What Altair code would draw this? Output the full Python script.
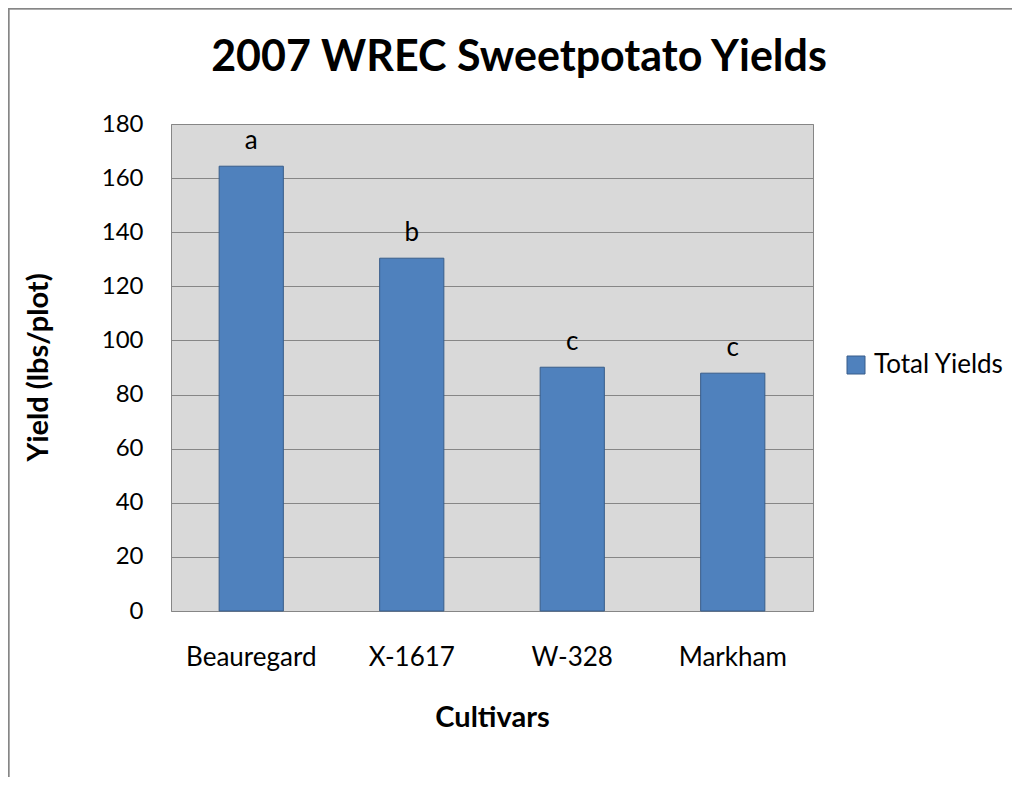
import altair as alt
import pandas as pd

cultivars = ["Beauregard", "X-1617", "W-328", "Markham"]
yields = [164.4, 130.4, 90.1, 87.9]
letters = ["a", "b", "c", "c"]
series_name = "Total Yields"
y_ticks = [0, 20, 40, 60, 80, 100, 120, 140, 160, 180]

FONT = "Lato"

df = pd.DataFrame({
    "Cultivar": cultivars,
    "Yield": yields,
    "Group": letters,
    "Series": [series_name] * len(cultivars),
})

base = alt.Chart(df).encode(
    x=alt.X(
        "Cultivar:N",
        sort=cultivars,
        scale=alt.Scale(paddingInner=0.6, paddingOuter=0.3),
        axis=alt.Axis(
            title="Cultivars",
            labelAngle=0,
            labelFont=FONT,
            labelFontSize=26,
            labelColor="#000000",
            labelPadding=33,
            labelBaseline="top",
            ticks=False,
            domain=False,
            titleFont=FONT,
            titleFontSize=29,
            titleFontWeight="bold",
            titleColor="#000000",
            titleY=106,
            titleBaseline="middle",
        ),
    ),
    y=alt.Y(
        "Yield:Q",
        scale=alt.Scale(domain=[0, 180]),
        axis=alt.Axis(
            values=y_ticks,
            title="Yield (lbs/plot)",
            labelFont=FONT,
            labelFontSize=24,
            labelColor="#000000",
            labelPadding=28,
            ticks=False,
            domain=False,
            gridColor="#868686",
            gridWidth=1.2,
            titleFont=FONT,
            titleFontSize=29,
            titleFontWeight="bold",
            titleColor="#000000",
            titleX=-133,
            titleY=243,
            titleAngle=-90,
            titleBaseline="middle",
            titleAlign="center",
        ),
    ),
)

bars = base.mark_bar(stroke="#385d8a", strokeWidth=1).encode(
    color=alt.Color(
        "Series:N",
        scale=alt.Scale(range=["#4f81bd"]),
        legend=alt.Legend(
            title=None,
            orient="none",
            legendX=672,
            legendY=228,
            symbolType="square",
            symbolSize=324,
            symbolStrokeColor="#385d8a",
            symbolStrokeWidth=1,
            symbolOpacity=1,
            labelFont=FONT,
            labelFontSize=26,
            labelColor="#000000",
            labelOffset=5,
        ),
    )
)

text = base.mark_text(baseline="alphabetic", dy=-17, fontSize=26, font=FONT, color="#000000").encode(
    text="Group:N"
)

frame_top = alt.Chart(df).mark_rule(color="#868686", strokeWidth=1.5).encode(
    x=alt.value(-162.5), x2=alt.value(841), y=alt.value(-115.5)
)
frame_left = alt.Chart(df).mark_rule(color="#868686", strokeWidth=1.5).encode(
    x=alt.value(-162.5), y=alt.value(-115.5), y2=alt.value(653)
)

chart = alt.layer(bars, text, frame_top, frame_left).properties(
    width=642,
    height=487,
    autosize=alt.AutoSizeParams(type="none"),
    padding={"left": 163, "top": 116, "right": 199, "bottom": 166},
    background="#ffffff",
    title=alt.TitleParams(
        "2007 WREC Sweetpotato Yields",
        font=FONT,
        fontSize=43,
        fontWeight="bold",
        color="#000000",
        anchor="middle",
        frame="group",
        baseline="alphabetic",
        dx=27,
        offset=-106,
    ),
).configure_view(fill="#d9d9d9", stroke="#868686", strokeWidth=1)

chart.save("out.html", embed_options={"renderer": "svg", "actions": False})
